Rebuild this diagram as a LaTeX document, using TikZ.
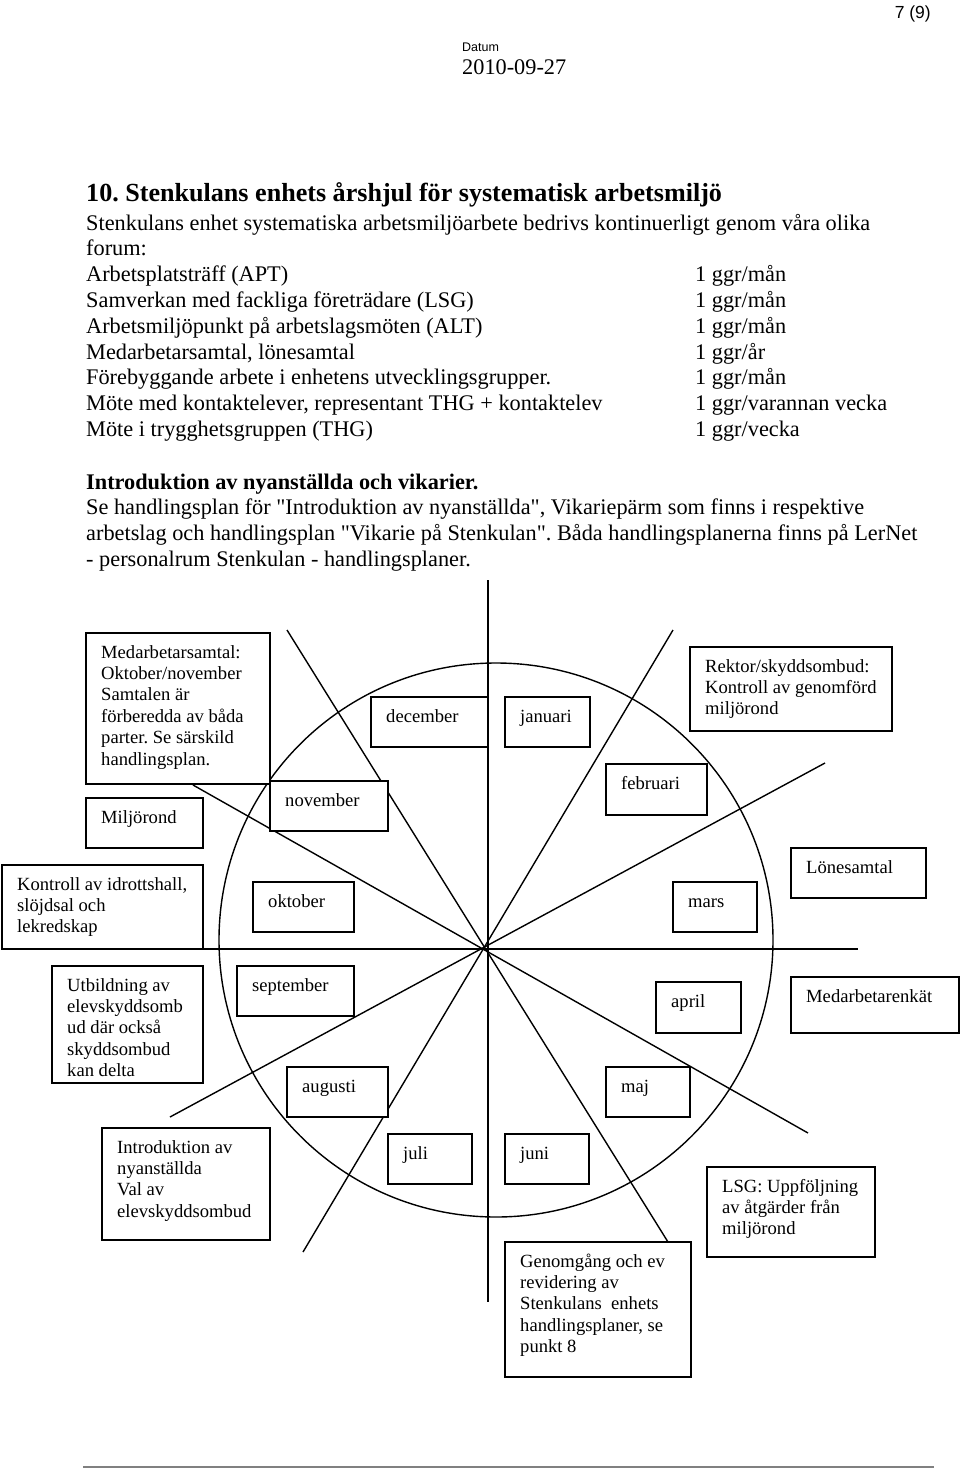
\documentclass[tikz,border=0pt]{standalone}
\usepackage{fontspec}
\setmainfont{Liberation Serif}
\newfontfamily\arialfont{Liberation Sans}
\usetikzlibrary{calc}
\frenchspacing
\newcommand\mlines[1]{\begin{tabular}[t]{@{}l@{}}#1\end{tabular}}
\tikzset{
  wbox/.style={draw, fill=white, line width=1.4pt, inner sep=0pt, outer sep=0pt, anchor=north west},
  btxt/.style={anchor=base west, inner sep=0pt, font=\fontsize{18.6}{21.4}\selectfont},
  mtxt/.style={anchor=base west, inner sep=0pt, font=\fontsize{22.3}{25.8}\selectfont},
  spoke/.style={line width=1.4pt},
}
\newcommand\wheelbox[6]{%
  \node[wbox, minimum width={#4-#2}, minimum height={#5-#3}] (#1) at (#2,#3) {};
  \node[btxt] (#1-t) at ($(#1.north west)+(15,25)$) {\mlines{#6}};
}
\begin{document}
\frenchspacing
\begin{tikzpicture}[x=1pt,y=-1pt]
\useasboundingbox (0,0) rectangle (960,1469);

% header
\node[anchor=base east, inner sep=0pt, font=\arialfont\fontsize{17.5}{20}\selectfont] (pagenum) at (931,19) {7 (9)};
\node[anchor=base west, inner sep=0pt, font=\arialfont\fontsize{12.5}{14}\selectfont] (datumlbl) at (462,52) {Datum};
\node[anchor=base west, inner sep=0pt, font=\fontsize{22.3}{25}\selectfont] (datum) at (462,75) {2010-09-27};

% title and text
\node[anchor=base west, inner sep=0pt, font=\bfseries\fontsize{26.1}{30}\selectfont] (title) at (86,201) {10. Stenkulans enhets årshjul för systematisk arbetsmiljö};
\node[mtxt] (intro) at (86,230) {\mlines{Stenkulans enhet systematiska arbetsmiljöarbete bedrivs kontinuerligt genom våra olika\\forum:}};
\node[mtxt] (forumL) at (86,281.6) {\mlines{Arbetsplatsträff (APT)\\Samverkan med fackliga företrädare (LSG)\\Arbetsmiljöpunkt på arbetslagsmöten (ALT)\\Medarbetarsamtal, lönesamtal\\Förebyggande arbete i enhetens utvecklingsgrupper.\\Möte med kontaktelever, representant THG + kontaktelev\\Möte i trygghetsgruppen (THG)}};
\node[mtxt] (forumR) at (695,281.6) {\mlines{1 ggr/mån\\1 ggr/mån\\1 ggr/mån\\1 ggr/år\\1 ggr/mån\\1 ggr/varannan vecka\\1 ggr/vecka}};
\node[mtxt] (nyanst) at (86,489) {\mlines{{\bfseries Introduktion av nyanställda och vikarier.}\\Se handlingsplan för \textquotedbl Introduktion av nyanställda\textquotedbl, Vikariepärm som finns i respektive\\arbetslag och handlingsplan \textquotedbl Vikarie på Stenkulan\textquotedbl. Båda handlingsplanerna finns på LerNet\\- personalrum Stenkulan - handlingsplaner.}};

% wheel
\node[draw, circle, line width=1.4pt, minimum size=554pt, inner sep=0pt] (wheel) at (496,940) {};
\coordinate (hub) at (483,949);
\coordinate (vt) at (488,580);
\coordinate (vb) at (488,1302);
\coordinate (hr) at (858,949);
\coordinate (a1) at (287,630);
\coordinate (a2) at (668,1242);
\coordinate (b1) at (673,630);
\coordinate (b2) at (303,1252);
\coordinate (c1) at (825,763);
\coordinate (c2) at (170,1117);
\coordinate (d1) at (193,785);
\coordinate (d2) at (808,1133);
\coordinate (hl) at (203,949);
\draw[spoke] (vt) -- (vb);
\draw[spoke] (hl) -- (hr);
\draw[spoke] (a1) -- (a2);
\draw[spoke] (b1) -- (b2);
\draw[spoke] (c1) -- (c2);
\draw[spoke] (d1) -- (d2);

% boxes
\wheelbox{medsam}{86}{633}{270}{784}{Medarbetarsamtal:\\Oktober/november\\Samtalen är\\förberedda av båda\\parter. Se särskild\\handlingsplan.}
\wheelbox{miljo}{86}{798}{203}{848}{Miljörond}
\wheelbox{nov}{270}{781}{388}{831}{november}
\wheelbox{dec}{371}{697}{488}{747}{december}
\wheelbox{jan}{505}{697}{590}{747}{januari}
\wheelbox{feb}{606}{764}{707}{815}{februari}
\wheelbox{rektor}{690}{647}{892}{731}{Rektor/skyddsombud:\\Kontroll av genomförd\\miljörond}
\wheelbox{lone}{791}{848}{926}{898}{Lönesamtal}
\wheelbox{kontroll}{2}{865}{203}{949}{Kontroll av idrottshall,\\slöjdsal och\\lekredskap}
\wheelbox{okt}{253}{882}{354}{932}{oktober}
\wheelbox{mars}{673}{882}{757}{932}{mars}
\wheelbox{utb}{52}{966}{203}{1083}{Utbildning av\\elevskyddsomb\\ud där också\\skyddsombud\\kan delta}
\wheelbox{sep}{237}{966}{354}{1016}{september}
\wheelbox{apr}{656}{982}{741}{1033}{april}
\wheelbox{enkat}{791}{977}{959}{1033}{Medarbetarenkät}
\wheelbox{aug}{287}{1067}{388}{1117}{augusti}
\wheelbox{maj}{606}{1067}{690}{1117}{maj}
\wheelbox{introbox}{102}{1128}{270}{1240}{Introduktion av\\nyanställda\\Val av\\elevskyddsombud}
\wheelbox{juli}{388}{1134}{472}{1184}{juli}
\wheelbox{juni}{505}{1134}{589}{1184}{juni}
\wheelbox{lsg}{707}{1167}{875}{1257}{LSG: Uppföljning\\av åtgärder från\\miljörond}
\wheelbox{genom}{505}{1242}{691}{1377}{Genomgång och ev\\revidering av\\Stenkulans\ \ enhets\\handlingsplaner, se\\punkt 8}

% footer rule
\coordinate (fl) at (83,1467);
\coordinate (fr) at (934,1467);
\draw[gray, line width=2.5pt] (fl) -- (fr);
\end{tikzpicture}
\end{document}
